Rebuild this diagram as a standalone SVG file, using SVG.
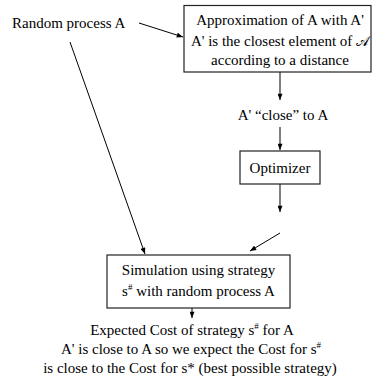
<svg xmlns="http://www.w3.org/2000/svg" width="372" height="380" viewBox="0 0 372 380">
<style>
text{font-family:"Liberation Serif","Times New Roman",serif;font-size:15px;fill:#000}
.c{text-anchor:middle}
.box{fill:#fff;stroke:#222;stroke-width:1.2}
.ln{stroke:#000;stroke-width:1;fill:none;marker-end:url(#ah)}
.sup{font-size:9px}
.scr{font-family:"DejaVu Sans","Noto Sans",sans-serif;font-size:14px}
</style>
<defs>
<marker id="ah" viewBox="0 0 10 8" refX="10" refY="4" markerWidth="7" markerHeight="5" markerUnits="userSpaceOnUse" orient="auto">
<path d="M0,0 L10,4 L0,8 Z" fill="#000"/>
</marker>
</defs>
<g id="connectors">
<line class="ln" x1="139" y1="23" x2="183" y2="37"/>
<line class="ln" x1="280" y1="72" x2="280" y2="100"/>
<line class="ln" x1="280" y1="127" x2="280" y2="150"/>
<line class="ln" x1="280" y1="184" x2="280" y2="212"/>
<line class="ln" x1="280" y1="233" x2="250" y2="251"/>
<line class="ln" x1="70" y1="42" x2="145" y2="254"/>
<line class="ln" x1="192" y1="308" x2="192" y2="318"/>
</g>
<g id="random">
<text x="12" y="28">Random process A</text>
</g>
<g id="approx">
<rect class="box" x="184" y="5.5" width="187" height="66.5"/>
<text class="c" x="280" y="25">Approximation of A with A'</text>
<text class="c" x="280" y="46">A' is the closest element of <tspan class="scr">𝒜</tspan></text>
<text class="c" x="280" y="65">according to a distance</text>
</g>
<g id="close">
<text class="c" x="283" y="120">A' “close” to A</text>
</g>
<g id="optimizer">
<rect class="box" x="240" y="151" width="80" height="33"/>
<text class="c" x="280" y="173">Optimizer</text>
</g>
<g id="simulation">
<rect class="box" x="107" y="255" width="183" height="53"/>
<text class="c" x="198.5" y="275">Simulation using strategy</text>
<text class="c" x="198.5" y="296">s<tspan class="sup" dy="-6">#</tspan><tspan dy="6"> with random process A</tspan></text>
</g>
<g id="result">
<text class="c" x="192" y="335">Expected Cost of strategy s<tspan class="sup" dy="-6">#</tspan><tspan dy="6"> for A</tspan></text>
<text class="c" x="191" y="354">A' is close to A so we expect the Cost for s<tspan class="sup" dy="-6">#</tspan></text>
<text class="c" x="190" y="373">is close to the Cost for s* (best possible strategy)</text>
</g>
</svg>
